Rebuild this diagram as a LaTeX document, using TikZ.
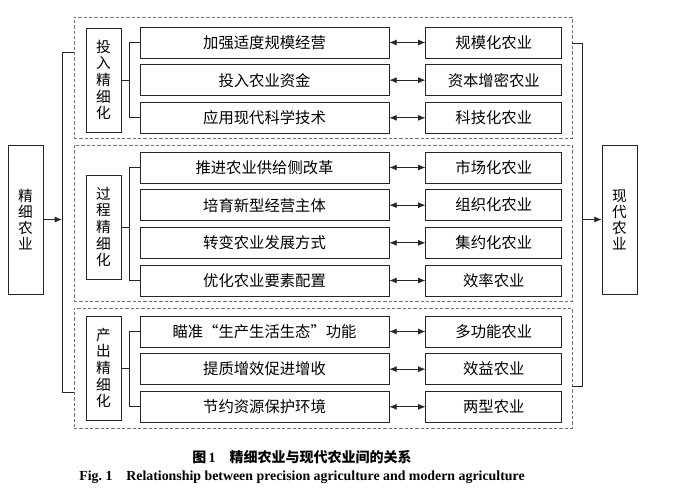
\documentclass[tikz,border=0pt]{standalone}
\usepackage{fontspec}
\setmainfont{Liberation Serif}
\newfontfamily\cjk{Noto Sans CJK SC}
\usetikzlibrary{arrows.meta,positioning}

\begin{document}
\begin{tikzpicture}[
  x=0.75pt,y=-0.75pt,
  node distance=4.4pt and 27pt,
  thinline/.style={draw=black!85,line width=0.6pt},
  item/.style={thinline,minimum width=186.75pt,minimum height=23.25pt,inner sep=0pt,font=\cjk\fontsize{11.5}{13}\selectfont},
  goal/.style={item,minimum width=102pt},
  stage/.style={thinline,minimum width=26.25pt,minimum height=78pt,inner sep=0pt,align=center,font=\cjk\fontsize{11}{12.5}\selectfont},
  side/.style={stage,minimum height=111.75pt,font=\cjk\fontsize{11}{12}\selectfont},
  grp/.style={draw=black!55,dash pattern=on 2.4pt off 1.6pt,line width=0.6pt,inner sep=0pt,minimum width=373.5pt},
  dbl/.style={thinline,{Latex[length=5.5pt,width=4.5pt]}-{Latex[length=5.5pt,width=4.5pt]}},
  arr/.style={thinline,-{Latex[length=5.5pt,width=4.5pt]}}
]
\useasboundingbox (0,0) rectangle (680,496);

% dashed groups
\node[grp,minimum height=90.75pt] (g1) at (323,77.5) {};
\node[grp,minimum height=117pt] (g2) at (323,223) {};
\node[grp,minimum height=90pt] (g3) at (323,368) {};

% input
\node[stage] (s1) at (103.5,80) {投\\入\\精\\细\\化};
\node[item] (a1) at (264.5,42.5) {加强适度规模经营};
\node[item,below=of a1] (a2) {投入农业资金};
\node[item,below=of a2] (a3) {应用现代科学技术};
\node[goal,right=of a1] (b1) {规模化农业};
\node[goal,right=of a2] (b2) {资本增密农业};
\node[goal,right=of a3] (b3) {科技化农业};

% process
\node[stage] (s2) at (103.5,227) {过\\程\\精\\细\\化};
\node[item] (c1) at (264.5,167.5) {推进农业供给侧改革};
\node[item,below=of c1] (c2) {培育新型经营主体};
\node[item,below=of c2] (c3) {转变农业发展方式};
\node[item,below=of c3] (c4) {优化农业要素配置};
\node[goal,right=of c1] (d1) {市场化农业};
\node[goal,right=of c2] (d2) {组织化农业};
\node[goal,right=of c3] (d3) {集约化农业};
\node[goal,right=of c4] (d4) {效率农业};

% output
\node[stage] (s3) at (103.5,368) {产\\出\\精\\细\\化};
\node[item] (e1) at (264.5,331.5) {瞄准“生产生活生态”功能};
\node[item,below=of e1] (e2) {提质增效促进增收};
\node[item,below=of e2] (e3) {节约资源保护环境};
\node[goal,right=of e1] (f1) {多功能农业};
\node[goal,right=of e2] (f2) {效益农业};
\node[goal,right=of e3] (f3) {两型农业};

% brackets
\draw[thinline] (s1.east) -- ++(9,0);
\draw[thinline] (a1.west) -- ++(-10,0) |- (a3.west);
\draw[thinline] (s2.east) -- ++(9,0);
\draw[thinline] (c1.west) -- ++(-10,0) |- (c4.west);
\draw[thinline] (s3.east) -- ++(9,0);
\draw[thinline] (e1.west) -- ++(-10,0) |- (e3.west);

% double arrows
\draw[dbl] (a1) -- (b1);
\draw[dbl] (a2) -- (b2);
\draw[dbl] (a3) -- (b3);
\draw[dbl] (c1) -- (d1);
\draw[dbl] (c2) -- (d2);
\draw[dbl] (c3) -- (d3);
\draw[dbl] (c4) -- (d4);
\draw[dbl] (e1) -- (f1);
\draw[dbl] (e2) -- (f2);
\draw[dbl] (e3) -- (f3);

% outer boxes
\node[side] (src) at (25.5,219.5) {精\\细\\农\\业};
\node[side] (dst) at (619.5,219.5) {现\\代\\农\\业};
\coordinate (ltop) at (62,52);
\coordinate (lbot) at (62,392);
\draw[thinline] (g1.west |- ltop) -- (ltop) -- (lbot) -- (g3.west |- lbot);
\draw[arr] (src) -- (src -| ltop);
\coordinate (rtop) at (582,43);
\coordinate (rbot) at (582,386);
\draw[thinline] (g1.east |- rtop) -- (rtop) -- (rbot) -- (g3.east |- rbot);
\draw[arr] (rtop |- dst) -- (dst);

% caption
\node[font=\cjk\bfseries\fontsize{10.5}{12}\selectfont] (cap) at (302,457) {图\,{\rmfamily 1}\quad 精细农业与现代农业间的关系};
\node[font=\bfseries\fontsize{10.4}{12}\selectfont] (capen) at (302,477) {Fig.~1\quad Relationship between precision agriculture and modern agriculture};
\end{tikzpicture}
\end{document}
